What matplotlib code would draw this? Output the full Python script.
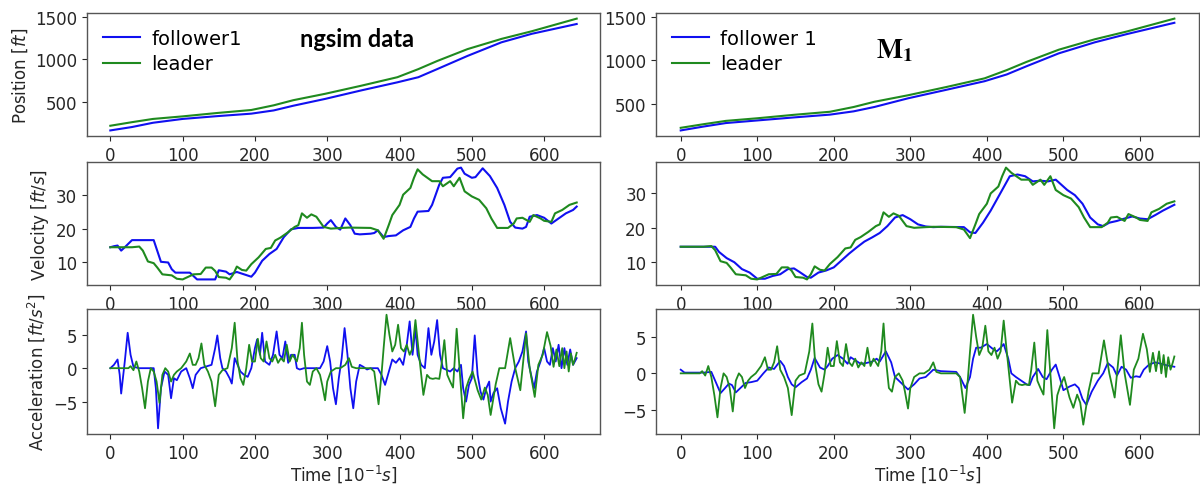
import matplotlib
matplotlib.use("Agg")
import matplotlib.pyplot as plt

# ---------------- data ----------------
# Position [ft]
pos_t = [0, 30, 59, 100, 148, 195, 226, 253, 297, 347, 397, 426, 452, 494, 541, 583, 645]
pos_leader = [220, 262, 300, 330, 370, 405, 460, 520, 595, 690, 790, 885, 980, 1120, 1240, 1330, 1478]
pos_follower_ngsim = [165, 205, 255, 300, 333, 362, 400, 455, 535, 635, 730, 790, 885, 1040, 1200, 1300, 1415]
pos_follower_m1 = [190, 235, 275, 305, 340, 372, 410, 460, 560, 658, 757, 835, 930, 1078, 1205, 1300, 1430]

# Velocity [ft/s]
vel_leader_t = [0, 30, 40, 45, 52, 60, 65, 72, 85, 92, 100, 108, 115, 125, 132, 140, 145, 150,
                160, 165, 170, 175, 182, 188, 195, 205, 215, 222, 228, 235, 245, 255, 260, 265,
                272, 278, 285, 295, 305, 320, 330, 360, 370, 378, 385, 390, 400, 405, 415, 420,
                425, 432, 445, 455, 460, 470, 475, 483, 490, 500, 510, 520, 527, 535, 550, 558,
                562, 570, 580, 585, 595, 600, 610, 615, 625, 635, 645]
vel_leader = [14.5, 14.5, 14.7, 13.5, 10.3, 9.8, 8.5, 6.5, 6.2, 5.2, 5.0, 5.8, 6.5, 6.6, 8.5, 8.5, 7.5, 5.7,
              5.5, 5.0, 6.5, 8.8, 7.8, 7.6, 9.5, 11.5, 14.0, 14.3, 16.5, 17.3, 18.8, 20.5, 21.0, 24.5,
              23.2, 24.2, 23.5, 20.5, 20.0, 20.2, 20.3, 20.2, 19.5, 17.0, 21.0, 24.0, 27.0, 30.0, 32.0, 35.0,
              37.5, 36.0, 34.0, 34.0, 32.5, 34.0, 32.5, 35.0, 31.0, 29.5, 28.5, 26.0, 23.0, 20.2, 20.2, 21.5,
              23.0, 23.2, 22.0, 24.0, 23.0, 22.3, 22.0, 24.5, 25.5, 27.0, 27.7]

vel_ngsim_t = [0, 5, 10, 15, 20, 30, 60, 70, 80, 85, 90, 110, 120, 140, 145, 150, 160, 165, 175,
               185, 195, 200, 210, 220, 230, 240, 250, 260, 280, 295, 300, 305, 312, 318, 325, 332,
               338, 345, 360, 365, 370, 378, 385, 395, 405, 415, 420, 425, 440, 445, 450, 455, 460,
               470, 480, 485, 490, 500, 505, 510, 515, 525, 535, 545, 553, 560, 570, 575, 580, 590,
               600, 610, 620, 630, 640, 645]
vel_ngsim = [14.5, 14.8, 15.0, 13.5, 14.5, 16.6, 16.6, 10.2, 10.0, 8.0, 7.0, 7.0, 5.0, 5.0, 5.0, 7.7, 7.3, 6.5, 7.2,
             6.5, 5.8, 7.0, 10.5, 12.5, 14.0, 17.5, 19.8, 20.2, 20.2, 20.3, 21.5, 22.5, 20.5, 19.7, 23.0, 21.0,
             18.5, 18.3, 18.5, 18.7, 19.5, 17.5, 17.8, 18.0, 19.5, 20.5, 23.0, 25.0, 25.2, 27.0, 30.0, 33.0, 35.0,
             35.2, 37.7, 38.0, 36.2, 35.0, 35.2, 36.5, 37.8, 35.5, 32.0, 27.0, 22.0, 20.3, 20.0, 20.5, 23.5, 24.0,
             23.2, 21.5, 23.0, 24.5, 25.5, 26.5]

vel_m1_t = [0, 40, 45, 50, 60, 70, 80, 90, 100, 110, 120, 130, 140, 148, 155, 165, 170, 180, 190, 200,
            210, 220, 230, 240, 250, 260, 270, 280, 290, 300, 310, 320, 330, 340, 370, 378, 385, 395,
            405, 420, 430, 440, 450, 460, 470, 480, 490, 495, 505, 515, 525, 535, 545, 552, 560, 570,
            580, 590, 600, 610, 620, 630, 645]
vel_m1 = [14.5, 14.5, 14.5, 13.0, 11.2, 10.0, 8.0, 7.0, 5.2, 5.2, 6.0, 6.5, 8.0, 8.2, 7.2, 5.7, 5.5, 7.0, 7.6, 8.5,
          10.5, 12.5, 14.3, 16.0, 17.2, 18.5, 20.5, 23.0, 23.7, 22.5, 21.0, 20.4, 20.2, 20.3, 20.2, 18.7, 18.5, 21.5,
          25.0, 31.0, 35.0, 35.5, 35.0, 33.5, 33.7, 33.5, 34.0, 33.0, 31.0, 29.5, 27.0, 23.0, 21.0, 20.5, 21.5, 22.0,
          22.7, 23.3, 22.7, 22.5, 23.7, 25.0, 26.7]

# Acceleration [ft/s^2]
acc_leader_t = [0, 25, 28, 32, 36, 40, 44, 48, 52, 56, 60, 64, 68, 72, 76, 80, 84, 88, 92, 98,
                105, 110, 114, 118, 122, 126, 130, 135, 140, 145, 150, 155, 162, 168, 172, 176, 180,
                184, 188, 192, 196, 200, 204, 208, 212, 216, 220, 224, 228, 232, 236, 240, 244, 248,
                252, 258, 262, 265, 268, 272, 276, 280, 285, 290, 293, 297, 300, 305, 312, 318, 325,
                330, 334, 340, 360, 365, 368, 371, 375, 378, 382, 386, 390, 394, 398, 402, 406, 410,
                414, 418, 422, 426, 430, 433, 438, 442, 446, 450, 455, 458, 462, 466, 470, 474, 479,
                483, 488, 492, 496, 501, 508, 513, 518, 522, 526, 533, 538, 546, 553, 560, 567, 575,
                580, 587, 592, 598, 604, 609, 613, 617, 621, 625, 628, 631, 634, 637, 640, 643, 645]
acc_leader = [0, 0, 0.3, -0.3, 1.0, -0.5, -3.0, -6.0, -2.0, 0, -0.5, -2.0, -5.2, -1.0, 0, -0.5, -2.0, -1.0, -0.5, 0,
              1.0, 2.2, 0.5, 0.5, 1.5, 3.7, 0.5, -0.5, -2.0, -5.7, -1.0, -0.3, 0, 3.0, 6.8, 1.0, -1.5,
              -2.5, 0, 3.5, 1.0, 1.0, 4.4, 1.5, 1.0, 4.0, 1.5, 1.0, 2.0, 0.8, 1.5, 1.0, 3.5, 1.0,
              2.0, 1.0, 3.0, 6.8, 2.0, -2.0, -2.5, -0.5, 0, -1.0, -2.5, -4.8, -2.0, -0.5, 0, 0, 0.5,
              1.5, 0.2, 0, 0, -0.5, -3.0, -5.4, -1.0, 3.0, 8.0, 5.0, 2.5, 3.5, 6.5, 3.0, 2.5, 3.5,
              2.0, 3.0, 7.2, 3.0, -1.0, -4.0, -1.0, -1.5, -1.6, -1.5, -1.6, 0.5, 4.2, -1.0, -2.0, -2.9, 5.9,
              0, -7.5, -3.0, -1.7, -0.5, -3.3, -4.7, -2.9, -4.0, -7.0, -2.4, 0, 0, 4.5, 0, -3.3, 5.2,
              0, -4.3, 0.5, 2.0, 5.4, 3.3, 0.2, 2.8, 0.3, 3.0, 0, 2.5, -0.5, 2.2, 0.5, 1.5, 2.3]

acc_ngsim_t = [0, 5, 10, 13, 15, 18, 20, 24, 28, 32, 40, 60, 63, 66, 70, 75, 80, 84, 88, 92, 98,
               105, 110, 114, 118, 125, 140, 145, 148, 152, 155, 160, 165, 168, 172, 176, 180, 185,
               190, 195, 200, 203, 207, 210, 214, 220, 225, 230, 234, 238, 242, 246, 250, 255, 258,
               262, 268, 290, 295, 300, 304, 308, 312, 316, 320, 324, 328, 332, 336, 340, 345, 350,
               355, 360, 370, 375, 380, 384, 390, 395, 400, 405, 410, 414, 418, 422, 425, 430, 435,
               440, 444, 448, 452, 456, 460, 470, 475, 480, 485, 488, 492, 496, 500, 504, 508, 512,
               516, 520, 524, 526, 530, 535, 540, 546, 550, 555, 560, 565, 570, 575, 578, 582, 586,
               590, 595, 600, 604, 608, 612, 616, 620, 624, 628, 632, 636, 640, 645]
acc_ngsim = [0, 0.5, 1.3, -1.0, -3.8, -1.0, 1.0, 5.3, 2.0, 0.2, 0, 0, -3.0, -9.0, -3.0, -0.5, -1.0, -4.5, -1.5, -1.8, -0.5,
             0, -1.5, -3.0, -1.0, 0, 0.5, 3.0, 4.9, 1.5, 0, -0.5, -1.5, -2.3, 1.5, 0.5, -0.5, -1.0,
             -1.3, 0, 3.0, 4.3, 2.0, 5.3, 1.0, 0.5, 2.0, 5.5, 2.0, 1.5, 4.0, 0.8, 2.0, 2.0, 0,
             -0.2, 0, 0, 1.0, 3.3, 1.0, -3.0, -5.4, -1.5, 1.5, 6.0, 2.0, -3.0, -6.0, -2.0, 0.5, 0.2,
             -0.2, 0, 0, -1.0, -2.5, -1.0, 1.3, 0.8, 1.5, 0.5, 3.5, 7.0, 2.0, 6.0, 2.0, 0.5, 0,
             6.0, 2.0, 4.0, 7.2, 2.0, 0, -0.5, 0, -0.5, 0.5, -3.0, -5.0, -2.5, -1.5, 4.9, -1.0, -3.5,
             -4.7, -3.0, -2.0, -5.0, -3.7, -3.0, -6.0, -8.3, -5.0, -2.0, 0, 1.0, 2.5, 5.5, 1.0, -1.0, -3.0,
             -0.5, 1.0, 3.0, 1.0, 0.5, 3.0, 1.0, 3.5, 0, 3.0, 0.5, 2.8, 0.5, 1.5]

acc_m1_t = [0, 5, 30, 40, 45, 52, 58, 63, 67, 72, 78, 85, 92, 100, 108, 115, 122, 130, 135, 140,
            145, 150, 158, 165, 170, 175, 182, 188, 192, 198, 205, 212, 218, 222, 228, 235, 242,
            250, 256, 260, 268, 275, 280, 290, 297, 305, 312, 320, 325, 330, 340, 360, 365, 372,
            378, 382, 386, 392, 400, 407, 413, 418, 422, 428, 432, 438, 445, 452, 456, 460, 467,
            473, 478, 485, 490, 495, 500, 508, 515, 520, 525, 530, 537, 545, 552, 558, 565, 570,
            576, 582, 588, 595, 600, 605, 612, 620, 628, 635, 645]
acc_m1 = [0.5, 0.1, 0.1, 0.2, -1.0, -2.7, -2.0, -1.4, -1.6, -2.6, -2.0, -1.3, -1.2, -1.0, 0, 0.8, 0.6, 1.7, 1.0, -0.5,
          -1.5, -1.9, -1.2, -0.7, 0.5, 2.1, 0.8, 0.5, 1.0, 2.0, 2.5, 2.0, 1.3, 2.2, 1.8, 1.3, 1.4,
          1.6, 2.0, 1.6, 3.0, 1.5, -0.5, -1.5, -2.2, -1.5, -0.7, -0.5, 0, 0.5, 0.3, 0.2, -0.5, -2.0,
          -0.5, 2.0, 3.5, 3.5, 4.0, 3.4, 3.0, 3.5, 4.0, 2.0, 0, -0.5, -1.0, -1.5, -1.6, -0.5, 0.6,
          -0.5, -0.8, 0.5, 1.2, -0.5, -2.3, -1.8, -1.5, -2.0, -3.5, -4.3, -2.5, -1.0, 0, 1.4, 0.8, -0.3,
          0.9, 0.5, -0.6, -0.4, -0.5, 0.5, 1.2, 1.5, 1.3, 1.1, 0.9]

follower_labels = ["follower1", "follower 1"]
leader_label = "leader"
panel_titles = ["ngsim data", r"$\mathbf{M_1}$"]
ylabels = ["Position [$ft$]", "Velocity [$ft/s$]", "Acceleration [$ft/s^2$]"]
xlabel = "Time [$10^{-1}s$]"

# ---------------- figure ----------------
plt.rcParams["font.family"] = ["DejaVu Sans"]
fig = plt.figure(figsize=(12, 4.89), dpi=100)

col_x = [(0.0725, 0.4275), (0.5467, 0.4525)]
row_y = [(0.7198, 0.2515), (0.4151, 0.2515), (0.1104, 0.2556)]

BLUE = "#1010f0"
GREEN = "#1f8a1f"
TICK_FS = 12
LABEL_FS = 12

series = [
    (pos_follower_ngsim, (vel_ngsim_t, vel_ngsim), (acc_ngsim_t, acc_ngsim)),
    (pos_follower_m1, (vel_m1_t, vel_m1), (acc_m1_t, acc_m1)),
]

for c in range(2):
    fpos, (fvt, fv), (fat, fa) = series[c]
    axes = []
    for r in range(3):
        x0, w = col_x[c]
        y0, h = row_y[r]
        ax = fig.add_axes([x0, y0, w, h])
        axes.append(ax)
        for sp in ax.spines.values():
            sp.set_color("#555555")
            sp.set_linewidth(1.0)
        ax.tick_params(labelsize=TICK_FS, colors="#262626", length=3.5, width=0.8)
        ax.set_xticks([0, 100, 200, 300, 400, 500, 600])

    a0, a1, a2 = axes
    a0.plot(pos_t, fpos, color=BLUE, lw=1.5, label=follower_labels[c])
    a0.plot(pos_t, pos_leader, color=GREEN, lw=1.5, label=leader_label)
    a0.set_yticks([500, 1000, 1500])
    a0.legend(loc="upper left", frameon=False, fontsize=14, handlelength=1.9,
              borderaxespad=0.4, labelspacing=0.35, handletextpad=0.6)

    a1.plot(fvt, fv, color=BLUE, lw=1.5)
    a1.plot(vel_leader_t, vel_leader, color=GREEN, lw=1.5)
    a1.set_yticks([10, 20, 30])

    a2.plot(fat, fa, color=BLUE, lw=1.3)
    a2.plot(acc_leader_t, acc_leader, color=GREEN, lw=1.3)
    a2.set_yticks([-5, 0, 5])
    a2.set_xlabel(xlabel, fontsize=LABEL_FS, color="#262626", labelpad=0.5)

    if c == 0:
        for ax, lab in zip(axes, ylabels):
            ax.set_ylabel(lab, fontsize=LABEL_FS, color="#262626")
        a0.text(0.415, 0.79, panel_titles[0], transform=a0.transAxes, fontsize=17,
                fontweight="bold", family="Lato", ha="left", va="center")
    else:
        a0.text(0.405, 0.71, panel_titles[1], transform=a0.transAxes, fontsize=20,
                math_fontfamily="stix", ha="left", va="center")

fig.savefig("out.png", dpi=100)
